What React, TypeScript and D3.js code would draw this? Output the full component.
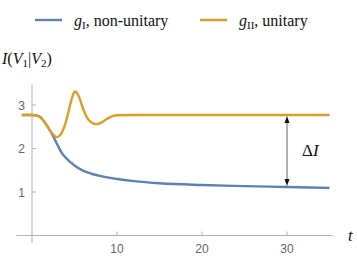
import { useEffect, useRef } from 'react'
import * as d3 from 'd3'

type Pt = { t: number; v: number }

const BLUE = '#5e81b5'
const ORANGE = '#e19c24'

// g_I, non-unitary
const tNonUnitary = [-1.2, 0, 0.5, 1, 1.5, 2, 2.5, 3, 3.5, 4, 5, 6, 7, 8, 10, 12, 15, 20, 25, 30, 35]
const vNonUnitary = [2.77, 2.77, 2.76, 2.72, 2.6, 2.45, 2.28, 2.08, 1.9, 1.78, 1.61, 1.49, 1.42, 1.37, 1.3, 1.25, 1.2, 1.16, 1.135, 1.115, 1.095]

// g_II, unitary
const tUnitary = [-1.2, 0, 0.5, 1, 1.5, 2, 2.5, 2.9, 3.4, 3.9, 4.3, 4.7, 5.06, 5.5, 6.0, 6.5, 7.0, 7.6, 8.2, 8.8, 9.4, 10, 12, 35]
const vUnitary = [2.77, 2.77, 2.76, 2.71, 2.6, 2.45, 2.32, 2.26, 2.33, 2.56, 2.85, 3.16, 3.31, 3.2, 2.92, 2.7, 2.6, 2.56, 2.6, 2.68, 2.74, 2.765, 2.77, 2.77]

const xTicks = [10, 20, 30]
const yTicks = [1, 2, 3]
const arrowT = 30

const toPts = (ts: number[], vs: number[]): Pt[] => ts.map((t, i) => ({ t, v: vs[i] }))

export default function App() {
  const svgRef = useRef<SVGSVGElement>(null)

  useEffect(() => {
    if (!svgRef.current) return
    const width = 357
    const height = 258
    const svg = d3.select(svgRef.current)
    svg.selectAll('*').remove()
    svg.attr('width', width).attr('height', height)

    const x = d3.scaleLinear().domain([0, 30]).range([32, 287])
    const y = d3.scaleLinear().domain([0, 3]).range([235.5, 105])
    const xMin = -1.85, xMax = 35.4, yMin = -0.17, yMax = 3.47

    const axisColor = '#b3b3b3'
    const tickFont = 'Liberation Sans, Arial, sans-serif'
    const serif = 'Liberation Serif, Times New Roman, serif'

    // axes
    svg.append('line')
      .attr('x1', x(xMin)).attr('x2', x(xMax))
      .attr('y1', y(0)).attr('y2', y(0))
      .attr('stroke', axisColor).attr('stroke-width', 1)
    svg.append('line')
      .attr('x1', x(0)).attr('x2', x(0))
      .attr('y1', y(yMin)).attr('y2', y(yMax))
      .attr('stroke', axisColor).attr('stroke-width', 1)

    xTicks.forEach(t => {
      svg.append('line')
        .attr('x1', x(t)).attr('x2', x(t))
        .attr('y1', y(0)).attr('y2', y(0) - 4)
        .attr('stroke', axisColor)
      svg.append('text')
        .attr('x', x(t)).attr('y', 252.5)
        .attr('text-anchor', 'middle')
        .attr('font-family', tickFont).attr('font-size', '12px')
        .attr('fill', '#666')
        .text(t)
    })
    yTicks.forEach(v => {
      svg.append('line')
        .attr('x1', x(0)).attr('x2', x(0) + 4)
        .attr('y1', y(v)).attr('y2', y(v))
        .attr('stroke', axisColor)
      svg.append('text')
        .attr('x', 25).attr('y', y(v) + 4.5)
        .attr('text-anchor', 'end')
        .attr('font-family', tickFont).attr('font-size', '12px')
        .attr('fill', '#666')
        .text(v)
    })

    const lineGen = d3.line<Pt>()
      .x(d => x(d.t))
      .y(d => y(d.v))
      .curve(d3.curveMonotoneX)

    svg.append('path')
      .datum(toPts(tNonUnitary, vNonUnitary))
      .attr('fill', 'none').attr('stroke', BLUE).attr('stroke-width', 2.4)
      .attr('d', lineGen)
    svg.append('path')
      .datum(toPts(tUnitary, vUnitary))
      .attr('fill', 'none').attr('stroke', ORANGE).attr('stroke-width', 2.4)
      .attr('d', lineGen)

    // Delta I arrow
    const topV = vUnitary[vUnitary.length - 1]
    const botV = d3.scaleLinear().domain(tNonUnitary).range(vNonUnitary)(arrowT)
    const ax = x(arrowT)
    const yTop = y(topV) + 1
    const yBot = y(botV) - 1
    svg.append('line')
      .attr('x1', ax).attr('x2', ax)
      .attr('y1', yTop + 5).attr('y2', yBot - 5)
      .attr('stroke', '#999').attr('stroke-width', 1.5)
    svg.append('path')
      .attr('d', `M${ax},${yTop} L${ax - 2.5},${yTop + 7} L${ax + 2.5},${yTop + 7} Z`)
      .attr('fill', '#111')
    svg.append('path')
      .attr('d', `M${ax},${yBot} L${ax - 2.5},${yBot - 7} L${ax + 2.5},${yBot - 7} Z`)
      .attr('fill', '#111')
    const dl = svg.append('text')
      .attr('x', 302).attr('y', 156)
      .attr('font-family', serif).attr('font-size', '17px').attr('fill', '#111')
    dl.append('tspan').text('Δ')
    dl.append('tspan').attr('font-style', 'italic').text('I')

    // axis labels
    const yl = svg.append('text')
      .attr('x', 2).attr('y', 64)
      .attr('font-family', serif).attr('font-size', '16px').attr('fill', '#111')
    yl.append('tspan').attr('font-style', 'italic').text('I')
    yl.append('tspan').text('(')
    yl.append('tspan').attr('font-style', 'italic').text('V')
    yl.append('tspan').attr('font-size', '11px').attr('dy', 3).text('1')
    yl.append('tspan').attr('dy', -3).text('|')
    yl.append('tspan').attr('font-style', 'italic').text('V')
    yl.append('tspan').attr('font-size', '11px').attr('dy', 3).text('2')
    yl.append('tspan').attr('dy', -3).text(')')

    svg.append('text')
      .attr('x', 348).attr('y', 241)
      .attr('font-family', serif).attr('font-size', '17px').attr('font-style', 'italic')
      .attr('fill', '#111')
      .text('t')

    // legend
    const legend = [
      { color: BLUE, x0: 35, sub: 'I', label: ', non-unitary' },
      { color: ORANGE, x0: 200, sub: 'II', label: ', unitary' },
    ]
    legend.forEach(item => {
      svg.append('line')
        .attr('x1', item.x0).attr('x2', item.x0 + 27)
        .attr('y1', 20).attr('y2', 20)
        .attr('stroke', item.color).attr('stroke-width', 2.4)
      const tx = svg.append('text')
        .attr('x', item.x0 + 39).attr('y', 25.5)
        .attr('font-family', serif).attr('font-size', '16px').attr('fill', '#111')
      tx.append('tspan').attr('font-style', 'italic').text('g')
      tx.append('tspan').attr('font-size', '11px').attr('dy', 3).text(item.sub)
      tx.append('tspan').attr('dy', -3).text(item.label)
    })
  }, [])

  return (
    <svg ref={svgRef} style={{ position: 'absolute', left: 0, top: 0, display: 'block' }} />
  )
}
